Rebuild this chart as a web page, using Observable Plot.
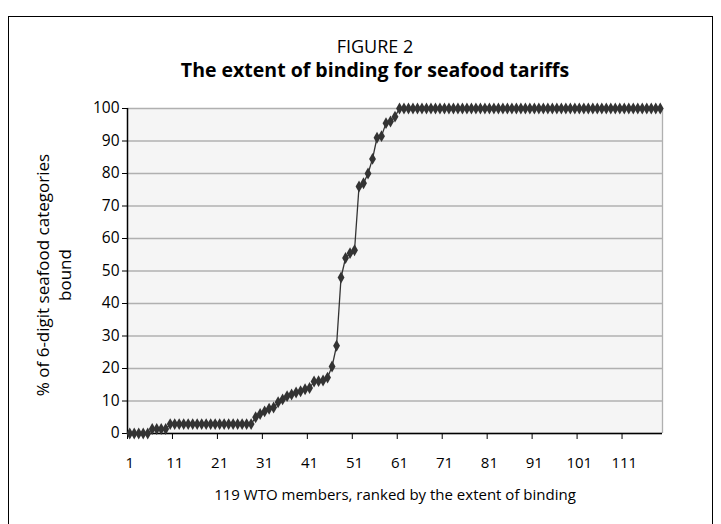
<!DOCTYPE html>
<html>
<head>
<meta charset="utf-8">
<script src="https://cdn.jsdelivr.net/npm/d3@7"></script>
<script src="https://cdn.jsdelivr.net/npm/@observablehq/plot@0.6"></script>
<style>
  html, body { margin: 0; padding: 0; background: #fff; }
  body { width: 721px; height: 524px; overflow: hidden; position: relative; font-family: "Open Sans", sans-serif; }
  .frame { position: absolute; left: 8px; top: 16px; width: 703px; height: 540px; border: 1.5px solid #000; }
  .t1, .t2 { position: absolute; left: 0; width: 750px; text-align: center; color: #000; }
  .t1 { top: 34px; font-size: 18px; }
  .t2 { top: 56px; font-size: 19.5px; font-weight: bold; }
  #chart { position: absolute; left: 0; top: 0; }
</style>
</head>
<body>
<div class="frame"></div>
<div class="t1">FIGURE 2</div>
<div class="t2">The extent of binding for seafood tariffs</div>
<div id="chart"></div>
<script>
// % of 6-digit seafood categories bound, members ranked 1..119
const boundShare = [
  0, 0, 0, 0, 0,
  1.4, 1.4, 1.4, 1.4,
  2.9, 2.9, 2.9, 2.9, 2.9, 2.9, 2.9, 2.9, 2.9, 2.9,
  2.9, 2.9, 2.9, 2.9, 2.9, 2.9, 2.9, 2.9, 2.9,
  5, 6, 6.8, 7.6, 8, 9.6, 10.5, 11.5, 12, 12.6,
  13, 13.6, 14, 16, 16.1, 16.3, 17.2, 20.6, 27, 48,
  54, 55.5, 56.4, 76, 77, 80, 84.5, 91, 91.5, 95.5,
  96, 97.5,
  100, 100, 100, 100, 100, 100, 100, 100, 100, 100,
  100, 100, 100, 100, 100, 100, 100, 100, 100, 100,
  100, 100, 100, 100, 100, 100, 100, 100, 100, 100,
  100, 100, 100, 100, 100, 100, 100, 100, 100, 100,
  100, 100, 100, 100, 100, 100, 100, 100, 100, 100,
  100, 100, 100, 100, 100, 100, 100, 100, 100
];
const xTickLabels = [1, 11, 21, 31, 41, 51, 61, 71, 81, 91, 101, 111];
const xTickMarks = [0.5, 10.5, 20.5, 30.5, 40.5, 50.5, 60.5, 70.5, 80.5, 90.5, 100.5, 110.5];
const yTicks = [0, 10, 20, 30, 40, 50, 60, 70, 80, 90, 100];
const xLabel = "119 WTO members, ranked by the extent of binding";
const yLabel = "% of 6-digit seafood categories\nbound";

const data = boundShare.map((v, i) => ({rank: i + 1, share: v}));

const chart = Plot.plot({
  width: 721,
  height: 524,
  marginLeft: 127,
  marginRight: 59,
  marginTop: 108,
  marginBottom: 91,
  style: {fontFamily: "Open Sans, sans-serif", fontSize: "15px", color: "#000", background: "transparent"},
  x: {domain: [0.5, 119.5], axis: null},
  y: {domain: [0, 100], axis: null},
  marks: [
    Plot.frame({fill: "#f5f5f5", stroke: null}),
    Plot.gridY(yTicks, {stroke: "#b0b0b0", strokeOpacity: 1, strokeWidth: 1.3}),
    Plot.ruleX([119.5], {stroke: "#b0b0b0", strokeWidth: 1.3}),
    Plot.axisY(yTicks, {anchor: "left", tickSize: 5, tickPadding: 3, label: null, stroke: "#000", fontSize: 15.5}),
    Plot.axisX(xTickMarks, {anchor: "bottom", tickSize: 6, tickFormat: () => "", label: null, stroke: "#000"}),
    Plot.axisX(xTickLabels, {anchor: "bottom", tickSize: 0, tickPadding: 24, label: null, fontSize: 15}),
    Plot.ruleY([0], {stroke: "#000", strokeWidth: 1.5}),
    Plot.ruleX([0.5], {stroke: "#000", strokeWidth: 1.5}),
    Plot.line(data, {x: "rank", y: "share", stroke: "#333", strokeWidth: 1.3}),
    Plot.dot(data, {x: "rank", y: "share", symbol: "diamond", r: 3.6, fill: "#333", stroke: null}),
    Plot.text([xLabel], {frameAnchor: "bottom", dy: 66, fontSize: 15, fill: "#000"}),
    Plot.text([yLabel], {frameAnchor: "left", textAnchor: "middle", rotate: -90, dx: -75, dy: 4, fontSize: 17, lineHeight: 1.3, fill: "#000"})
  ]
});
document.getElementById("chart").appendChild(chart);
</script>
</body>
</html>
